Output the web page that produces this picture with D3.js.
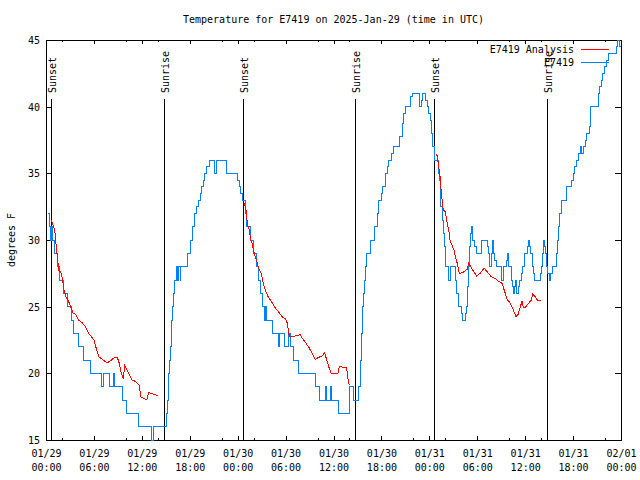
<!DOCTYPE html>
<html><head><meta charset="utf-8">
<script src="https://cdn.jsdelivr.net/npm/d3@7"></script>
<style>
html,body{margin:0;padding:0;background:#fff;}
svg{display:block;}
text{font-family:"DejaVu Sans Mono",monospace;font-size:10px;fill:#000;}
</style></head>
<body>
<svg id="chart" width="640" height="480"></svg>
<script>
// ---- data (hours after 2025-01-29 00:00 UTC, degrees F) ----
const titleText = "Temperature for E7419 on 2025-Jan-29 (time in UTC)";
const yLabel = "degrees F";
const yTicks = [15,20,25,30,35,40,45];
const majorTickHours = [0,6,12,18,24,30,36,42,48,54,60,66,72];
const minorTickHours = [2,10,14,22,26,34,38,46,50,58,62,70];
const seriesNames = ["E7419 Analysis","E7419"];
const eventNames = ["Sunset","Sunrise","Sunset","Sunrise","Sunset","Sunrise"];
const eventHours = [0.66,14.81,24.71,38.73,48.62,62.77];

const obsNight1 = [[0.29,32],[0.5,31],[0.59,30],[0.66,31],[0.79,30],[1.04,29],[1.42,28],[1.67,27],[2.17,26],[2.67,25],[3.17,24],[3.47,23],[4.04,22],[4.67,21],[5.6,20],[6.95,19],[7.2,20],[7.93,19],[8.47,20],[8.55,19],[9.52,18],[10.1,17],[11.52,16],[13.27,15],[13.52,16]];
const obsDay1 = [[15.03,17],[15.2,18],[15.3,19],[15.4,20],[15.5,21],[15.58,22],[15.66,23],[15.74,24],[15.82,25],[15.92,26],[16.05,27],[16.3,28],[16.5,27],[16.6,28],[16.8,27],[16.9,28],[17.7,29],[18.1,30],[18.3,31],[18.6,32],[18.85,32.5],[19.1,33],[19.35,33.5],[19.5,34],[19.75,34.5],[19.9,35],[20.1,35.5],[20.45,36],[21.05,35],[21.35,36],[22.6,35],[24.0,34.5],[24.2,34],[24.4,33.5],[24.6,33]];
const obsNight2 = [[24.96,32],[25.1,31],[25.55,30],[25.96,29],[26.33,28],[26.67,27],[26.83,26],[27.08,25],[27.35,24],[27.5,25],[27.6,24],[28.4,23],[29.1,22],[29.3,23],[29.92,22],[30.4,23],[30.6,22],[30.97,21],[31.6,20],[33.7,19],[34.2,18],[35.0,19],[35.12,18],[35.65,19],[35.8,18],[36.6,17],[37.95,18],[38.05,19],[38.48,18]];
const obsDay2 = [[39.16,19],[39.32,20],[39.4,21],[39.48,23],[39.57,25],[39.73,26],[39.9,27],[39.98,28],[40.16,29],[40.66,30],[41.15,31],[41.45,32],[41.65,33],[42.0,33.5],[42.15,34],[42.45,35],[42.7,35.5],[42.9,36],[43.2,36.5],[43.49,37],[44.3,37.75],[44.58,38.75],[44.74,39.5],[44.99,40],[45.6,40.75],[45.83,41],[46.8,40],[47.0,40.5],[47.2,41],[47.55,40.5],[47.8,40],[47.95,39.5],[48.1,39],[48.3,38],[48.45,37],[48.65,36]];
const obsNight3 = [[49.1,35],[49.25,34.5],[49.34,33.5],[49.45,32.5],[49.65,31.5],[49.78,30.5],[49.86,29.5],[50.0,28],[50.35,27],[50.7,28],[51.25,27],[51.4,26],[51.65,25],[52.0,24.5],[52.2,24],[52.5,24.5],[52.65,25],[52.8,26.5],[52.95,28],[53.05,29.5],[53.15,30.5],[53.25,31],[53.35,30.5],[53.45,30],[53.6,29.5],[53.85,29],[54.5,30],[55.3,29.5],[55.4,29],[55.55,28],[55.75,29],[55.85,30],[56.0,29],[56.2,28.5],[56.44,28],[57.0,27],[57.26,28],[57.6,28.5],[57.76,29],[57.94,28],[58.27,27],[58.44,26.5],[58.52,26],[58.69,26.5],[58.85,27],[58.95,26],[59.15,26.5],[59.27,27],[59.5,27.5],[59.69,28],[59.94,29],[60.3,29.5],[60.44,30],[60.6,29.5],[60.69,29],[60.86,28],[61.0,27.5],[61.19,27],[61.9,27.5],[62.02,28],[62.15,29],[62.27,30],[62.45,29.5],[62.6,29],[62.7,28],[62.85,27.5],[63.02,27],[63.2,27.5],[63.36,28]];
const obsDay3 = [[63.95,29],[64.02,30],[64.2,31],[64.36,32],[64.53,33],[65.2,34],[65.86,34.5],[66.03,35],[66.2,35.5],[66.45,36],[66.7,36.5],[66.95,37],[67.1,36.5],[67.25,37],[67.5,37.5],[67.7,38],[68.0,38.5],[68.12,39],[68.2,40],[69.21,41],[69.37,41.5],[69.53,42],[69.71,42.5],[69.96,43],[70.2,43.5],[70.45,44],[71.4,44.5],[71.55,45],[71.75,44.5],[72.0,44.5]];

const anaNight1 = [[0.66,31.5],[0.91,31.1],[1.09,30.75],[1.25,29.75],[1.42,28.75],[1.59,27.75],[1.84,27.6],[2.09,27],[2.25,26.25],[2.5,25.75],[2.75,25.5],[3.09,25],[3.42,24.5],[3.76,24.4],[4.09,24],[4.6,23.75],[4.92,23.5],[5.35,23],[5.67,22.75],[6.01,22.5],[6.35,21.75],[6.6,21.25],[6.92,21.1],[7.26,20.95],[7.68,20.8],[8.1,20.95],[8.6,21.2],[8.93,21.2],[9.18,20.75],[9.43,20],[9.68,19.6],[9.85,20.6],[10.1,20.3],[10.43,19.9],[10.77,19.5],[11.18,19.4],[11.68,19.1],[11.86,18.25],[12.27,18.1],[12.61,18],[12.86,18.55],[13.27,18.5],[13.61,18.4],[14.02,18.35]];
const anaNight2 = [[24.83,32.75],[25.04,32.25],[25.21,31.25],[25.46,30.75],[25.63,30],[25.8,29.75],[25.96,29.25],[26.21,28.75],[26.46,28.25],[26.71,27.75],[26.96,27.5],[27.21,26.75],[27.46,26.25],[27.8,25.75],[28.21,25.4],[28.71,24.9],[29.14,24.6],[29.55,24.25],[29.97,24.1],[30.22,23.75],[30.47,22.75],[30.64,22.75],[31.22,22.8],[31.81,22.9],[32.14,22.6],[32.56,22.25],[32.97,21.9],[33.31,21.5],[33.72,21.05],[34.15,21.2],[34.56,21.3],[34.9,21.55],[35.15,21],[35.4,20.5],[35.72,20],[36.56,20],[36.73,20.5],[37.32,20.45],[37.65,20.4],[37.82,19.6],[37.98,19.1]];
const anaNight3 = [[48.84,36.45],[49.0,36.3],[49.17,35.5],[49.34,34.75],[49.5,33.5],[49.75,32.25],[50.0,32.1],[50.25,31.25],[50.43,30.75],[50.59,30],[50.84,29.6],[51.09,29.25],[51.25,28.75],[51.5,28.25],[51.75,27.5],[52.18,27.55],[52.5,27.7],[52.75,27.8],[52.93,28.25],[53.43,27.75],[53.93,27.3],[54.35,27.5],[54.85,27.9],[55.26,27.6],[55.76,27.25],[56.26,27.1],[56.69,26.9],[57.1,26.75],[57.51,26],[57.76,25.5],[58.1,25.3],[58.52,24.75],[58.85,24.25],[59.1,24.4],[59.35,24.9],[59.6,25.4],[59.77,24.9],[60.02,24.95],[60.44,25.25],[60.77,25.5],[60.95,25.95],[61.27,25.75],[61.52,25.5],[61.94,25.45]];

// ---- drawing ----
const base = Date.UTC(2025,0,29);
const toDate = h => new Date(base + h*3600e3);
const svg = d3.select("#chart");
const L=46, R=621, T=40, B=440;
const x = d3.scaleUtc().domain([toDate(0), toDate(72)]).range([L, R]);
const y = d3.scaleLinear().domain([15,45]).range([B, T]);
const blue = "#0080ff", red = "#ff0000";

// title
svg.append("text").attr("x",(L+R)/2).attr("y",23).attr("text-anchor","middle").text(titleText);
// y label
svg.append("text").attr("transform","translate(15,240) rotate(-90)").attr("text-anchor","middle").text(yLabel);

// axes
const yl = svg.append("g").attr("transform",`translate(${L},0)`)
  .call(d3.axisLeft(y).tickValues(yTicks).tickSize(-6).tickPadding(6).tickFormat(d3.format("d")));
yl.select(".domain").remove();
yl.selectAll("text").style("font-family","'DejaVu Sans Mono',monospace").style("font-size","10px").attr("dy","0.36em");
const yr = svg.append("g").attr("transform",`translate(${R},0)`)
  .call(d3.axisRight(y).tickValues(yTicks).tickSize(-6).tickFormat(""));
yr.select(".domain").remove();

const fmtD = d3.utcFormat("%m/%d"), fmtT = d3.utcFormat("%H:%M");
const xb = svg.append("g").attr("transform",`translate(0,${B})`)
  .call(d3.axisBottom(x).tickValues(majorTickHours.map(toDate)).tickSize(-4).tickPadding(0).tickFormat(""));
xb.select(".domain").remove();
xb.selectAll(".tick").each(function(d){
  const t = d3.select(this).append("text").attr("text-anchor","middle").attr("fill","#000")
    .style("font-family","'DejaVu Sans Mono',monospace").style("font-size","10px");
  t.append("tspan").attr("x",0).attr("y",17).text(fmtD(d));
  t.append("tspan").attr("x",0).attr("y",31).text(fmtT(d));
});
const xbm = svg.append("g").attr("transform",`translate(0,${B})`)
  .call(d3.axisBottom(x).tickValues(minorTickHours.map(toDate)).tickSize(-2).tickFormat(""));
xbm.select(".domain").remove();
const xt = svg.append("g").attr("transform",`translate(0,${T})`)
  .call(d3.axisTop(x).tickValues(majorTickHours.map(toDate)).tickSize(-4).tickFormat(""));
xt.select(".domain").remove();
const xtm = svg.append("g").attr("transform",`translate(0,${T})`)
  .call(d3.axisTop(x).tickValues(minorTickHours.map(toDate)).tickSize(-2).tickFormat(""));
xtm.select(".domain").remove();
svg.selectAll(".tick line").attr("stroke","#000").attr("shape-rendering","crispEdges");

// frame
svg.append("rect").attr("x",L+0.5).attr("y",T+0.5).attr("width",R-L).attr("height",B-T)
  .attr("fill","none").attr("stroke","#000").attr("shape-rendering","crispEdges");

// sunrise / sunset
eventHours.forEach((h,i)=>{
  const px = Math.round(x(toDate(h)))+0.5;
  svg.append("line").attr("x1",px).attr("x2",px).attr("y1",99).attr("y2",B)
    .attr("stroke","#000").attr("shape-rendering","crispEdges");
  svg.append("text").attr("transform",`translate(${px+4.5},93) rotate(-90)`).text(eventNames[i]);
});

// series
const stepLine = d3.line().x(d=>x(toDate(d[0]))).y(d=>y(d[1])).curve(d3.curveStepAfter);
const linLine = d3.line().x(d=>x(toDate(d[0]))).y(d=>y(d[1]));
const obs = [].concat(obsNight1, obsDay1, obsNight2, obsDay2, obsNight3, obsDay3);
svg.append("path").datum(obs).attr("d",stepLine).attr("fill","none").attr("stroke",blue)
  .attr("stroke-width",1).attr("shape-rendering","crispEdges");
[anaNight1, anaNight2, anaNight3].forEach(seg=>{
  svg.append("path").datum(seg).attr("d",linLine).attr("fill","none").attr("stroke",red)
    .attr("stroke-width",1).attr("shape-rendering","crispEdges");
});

// legend
const lg = [[seriesNames[0], red, 49.5],[seriesNames[1], blue, 62.5]];
lg.forEach(([name,col,ly])=>{
  svg.append("text").attr("x",574).attr("y",ly+3.5).attr("text-anchor","end").text(name);
  svg.append("line").attr("x1",581).attr("x2",609).attr("y1",ly).attr("y2",ly)
    .attr("stroke",col).attr("shape-rendering","crispEdges");
});
</script>
</body></html>
